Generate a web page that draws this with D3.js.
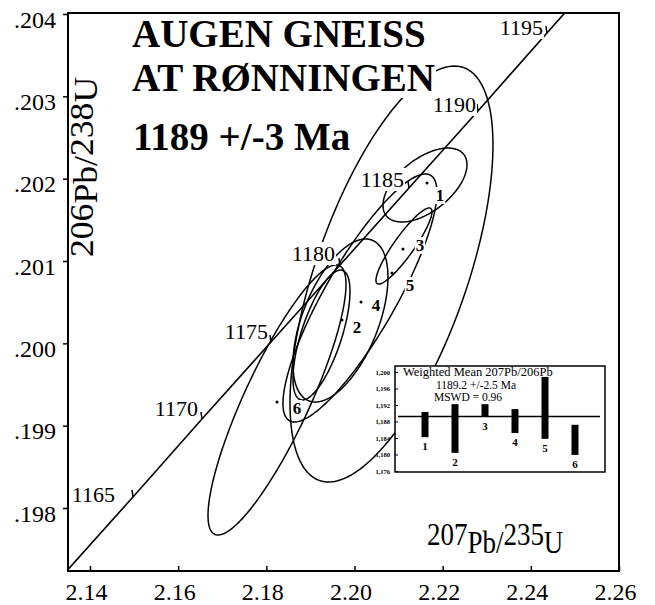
<!DOCTYPE html>
<html>
<head>
<meta charset="utf-8">
<script src="https://cdn.jsdelivr.net/npm/d3@7"></script>
<style>
  body { margin: 0; background: #fff; }
  svg { display: block; }
  svg text { font-family: "Liberation Serif", "Times New Roman", serif; }
</style>
</head>
<body>
<div id="chart"></div>
<script>
// concordia points (age, 207Pb/235U, 206Pb/238U)
const concAges = [1160, 1165, 1170, 1175, 1180, 1185, 1190, 1195, 1200];
const concX = [2.13409, 2.14975, 2.16540, 2.18106, 2.19671, 2.21236, 2.22801, 2.24366, 2.25931];
const concY = [0.197199, 0.198134, 0.199081, 0.200016, 0.200951, 0.201887, 0.202822, 0.203769, 0.204716];
const labelledAges = [1165, 1170, 1175, 1180, 1185, 1190, 1195];

// error ellipses: centre, 2 sigma and error correlation
const ellCx = [2.20839, 2.18242, 2.19251, 2.19682, 2.21599, 2.21122, 2.20124];
const ellCy = [0.200842, 0.199312, 0.200101, 0.200277, 0.201923, 0.201182, 0.200551];
const ellSx = [0.02302, 0.015651, 0.006465, 0.010774, 0.009527, 0.006351, 0.017466];
const ellSy = [0.002526, 0.001640, 0.000789, 0.000990, 0.000449, 0.000462, 0.001506];
const ellRho = [0.62, 0.855, 0.67, 0.53, 0.55, 0.9, 0.85];

// analysis markers
const ptIds = ['1', '2', '3', '4', '5', '6'];
const ptX = [2.21644, 2.19716, 2.21100, 2.20147, 2.20850, 2.18242];
const ptY = [0.201947, 0.200283, 0.201146, 0.200502, 0.200854, 0.199287];

// axes
const xTicks = [2.14, 2.16, 2.18, 2.20, 2.22, 2.24, 2.26];
const yTicks = [0.198, 0.199, 0.200, 0.201, 0.202, 0.203, 0.204];

// inset: weighted mean 207Pb/206Pb ages
const wmIds = [1, 2, 3, 4, 5, 6];
const wmLo = [1184.2, 1180.4, 1189.1, 1185.2, 1183.8, 1179.9];
const wmHi = [1190.3, 1192.2, 1192.2, 1191.0, 1198.8, 1187.2];
const wmMean = 1189.2;
const wmTicks = [1176, 1180, 1184, 1188, 1192, 1196, 1200];

// label layout (pixel nudges)
const ageDx = [-18, -4, -3, -5, -5, -2, -4];
const ageDy = [5, -3, -3, -4, -1, 1, 2];
const ptDx = [13, 15, 17, 15, 18, 20];
const ptDy = [12, 7, -4, 3, 12, 6];

const W = 655, H = 605;
const mLeft = 68, mRight = 619, mTop = 13, mBottom = 571;
const serif = '"Liberation Serif", "Times New Roman", serif';

const svg = d3.select('#chart').append('svg')
    .attr('width', W)
    .attr('height', H);

const x = d3.scaleLinear().domain([2.13501, 2.26]).range([mLeft, mRight]);
const y = d3.scaleLinear().domain([0.197235, 0.204]).range([mBottom, 14]);

svg.append('clipPath').attr('id', 'plot')
    .append('rect')
    .attr('x', mLeft).attr('y', mTop)
    .attr('width', mRight - mLeft).attr('height', mBottom - mTop);

// text with a white box behind it, like the original plot labels
function boxedText(g, tx, ty, str, size, weight, anchor, pad) {
    const t = g.append('text')
        .attr('x', tx).attr('y', ty)
        .attr('font-size', size)
        .attr('font-weight', weight)
        .attr('text-anchor', anchor)
        .text(str);
    const b = t.node().getBBox();
    g.insert('rect', () => t.node())
        .attr('x', b.x - pad).attr('y', b.y + pad)
        .attr('width', b.width + 2 * pad).attr('height', b.height - 2 * pad)
        .attr('fill', '#fff');
    return t;
}

const plot = svg.append('g').attr('clip-path', 'url(#plot)');

// ellipses
const ellLine = d3.line().curve(d3.curveLinearClosed);
const steps = d3.range(0, 2 * Math.PI, Math.PI / 90);
ellCx.forEach((cx, i) => {
    const r = ellRho[i], q = Math.sqrt(1 - r * r);
    const pts = steps.map(t => [
        x(cx + ellSx[i] * Math.cos(t)),
        y(ellCy[i] + ellSy[i] * (r * Math.cos(t) + q * Math.sin(t)))
    ]);
    plot.append('path')
        .attr('d', ellLine(pts))
        .attr('fill', 'none')
        .attr('stroke', '#000')
        .attr('stroke-width', 1.5);
});

// concordia
const conc = concAges.map((a, i) => [concX[i], concY[i]]);
plot.append('path')
    .attr('d', d3.line().x(d => x(d[0])).y(d => y(d[1]))(conc))
    .attr('fill', 'none')
    .attr('stroke', '#000')
    .attr('stroke-width', 1.6);

// age ticks on the concordia
const ageG = svg.append('g');
labelledAges.forEach((a, k) => {
    const i = concAges.indexOf(a);
    const px = x(concX[i]), py = y(concY[i]);
    ageG.append('line')
        .attr('x1', px).attr('y1', py)
        .attr('x2', px - 1).attr('y2', py - 7)
        .attr('stroke', '#000').attr('stroke-width', 1.5);
    boxedText(ageG, px + ageDx[k], py + ageDy[k], a, 22, 'normal', 'end', 1);
});

// data points and their numbers
ptIds.forEach((id, i) => {
    const px = x(ptX[i]), py = y(ptY[i]);
    svg.append('circle')
        .attr('cx', px).attr('cy', py).attr('r', 1.5)
        .attr('fill', '#000');
    boxedText(svg, px + ptDx[i], py + ptDy[i] + 6, id, 17, 'bold', 'middle', 1);
});

// title
boxedText(svg, 132, 47, 'AUGEN GNEISS', 39, 'bold', 'start', 1);
boxedText(svg, 132, 91, 'AT RØNNINGEN', 39, 'bold', 'start', 1);
boxedText(svg, 133, 150, '1189 +/-3 Ma', 39, 'bold', 'start', 1);

// axes
const xAxis = svg.append('g')
    .attr('transform', `translate(0,${mBottom})`)
    .call(d3.axisBottom(x).tickValues(xTicks).tickFormat(d3.format('.2f')).tickSize(-5).tickSizeOuter(0));
xAxis.selectAll('text')
    .attr('y', 29).attr('dy', 0).attr('dx', -4)
    .attr('fill', '#000')
    .style('font-family', serif).style('font-size', '24px');

const yAxis = svg.append('g')
    .attr('transform', `translate(${mLeft},0)`)
    .call(d3.axisLeft(y).tickValues(yTicks).tickFormat(d => d3.format('.3f')(d).slice(1)).tickSize(5).tickSizeOuter(0));
yAxis.selectAll('text')
    .attr('x', -12).attr('dy', 13)
    .attr('fill', '#000')
    .style('font-family', serif).style('font-size', '24px');
svg.selectAll('g.tick line').attr('stroke-width', 1.5);
svg.selectAll('g .domain').remove();

svg.append('rect')
    .attr('x', mLeft).attr('y', mTop)
    .attr('width', mRight - mLeft).attr('height', mBottom - mTop)
    .attr('fill', 'none').attr('stroke', '#000').attr('stroke-width', 2);

// axis titles
const xt = svg.append('text')
    .attr('transform', 'translate(427,553) scale(0.87,1)')
    .attr('font-size', 31);
xt.append('tspan').attr('dy', -8).text('207');
xt.append('tspan').attr('dy', 8).text('Pb/');
xt.append('tspan').attr('dy', -8).text('235');
xt.append('tspan').attr('dy', 8).text('U');

const yt = svg.append('text')
    .attr('transform', 'translate(97,257) rotate(-90) scale(1.08,1)')
    .attr('font-size', 33);
yt.append('tspan').attr('dy', -4).text('206');
yt.append('tspan').attr('dy', 4).text('Pb/');
yt.append('tspan').attr('dy', -4).text('238');
yt.append('tspan').attr('dy', 4).text('U');

// inset
const ix = d3.scaleLinear().domain([0, 7]).range([395, 605]);
const iy = d3.scaleLinear().domain([1175.76, 1201.45]).range([472, 366]);
const inset = svg.append('g');
inset.append('rect')
    .attr('x', 395).attr('y', 366).attr('width', 210).attr('height', 106)
    .attr('fill', '#fff').attr('stroke', '#000').attr('stroke-width', 1.5);
const iyAxis = inset.append('g')
    .attr('transform', 'translate(395,0)')
    .call(d3.axisLeft(iy).tickValues(wmTicks).tickSize(-3).tickSizeOuter(0));
iyAxis.selectAll('text')
    .attr('x', -5).attr('font-weight', 'bold')
    .attr('fill', '#000')
    .style('font-family', serif).style('font-size', '6.5px');
iyAxis.select('.domain').remove();

inset.append('line')
    .attr('x1', 398).attr('x2', 600)
    .attr('y1', iy(wmMean)).attr('y2', iy(wmMean))
    .attr('stroke', '#000').attr('stroke-width', 1.5);

inset.selectAll('rect.bar')
    .data(wmIds)
    .enter()
    .append('rect')
    .attr('class', 'bar')
    .attr('x', d => ix(d) - 3.5)
    .attr('y', (d, i) => iy(wmHi[i]))
    .attr('width', 7)
    .attr('height', (d, i) => iy(wmLo[i]) - iy(wmHi[i]))
    .attr('fill', '#000');

inset.selectAll('text.bl')
    .data(wmIds)
    .enter()
    .append('text')
    .attr('class', 'bl')
    .attr('x', d => ix(d))
    .attr('y', (d, i) => iy(wmLo[i]) + 13)
    .attr('text-anchor', 'middle')
    .attr('font-size', 11)
    .attr('font-weight', 'bold')
    .text(d => d);

inset.append('text').attr('x', 403).attr('y', 376).attr('font-size', 12.5)
    .text('Weighted Mean 207Pb/206Pb');
inset.append('text').attr('x', 476).attr('y', 388.5).attr('font-size', 11.5)
    .attr('text-anchor', 'middle').text('1189.2 +/-2.5 Ma');
inset.append('text').attr('x', 468).attr('y', 400.5).attr('font-size', 11.5)
    .attr('text-anchor', 'middle').text('MSWD = 0.96');
</script>
</body>
</html>
